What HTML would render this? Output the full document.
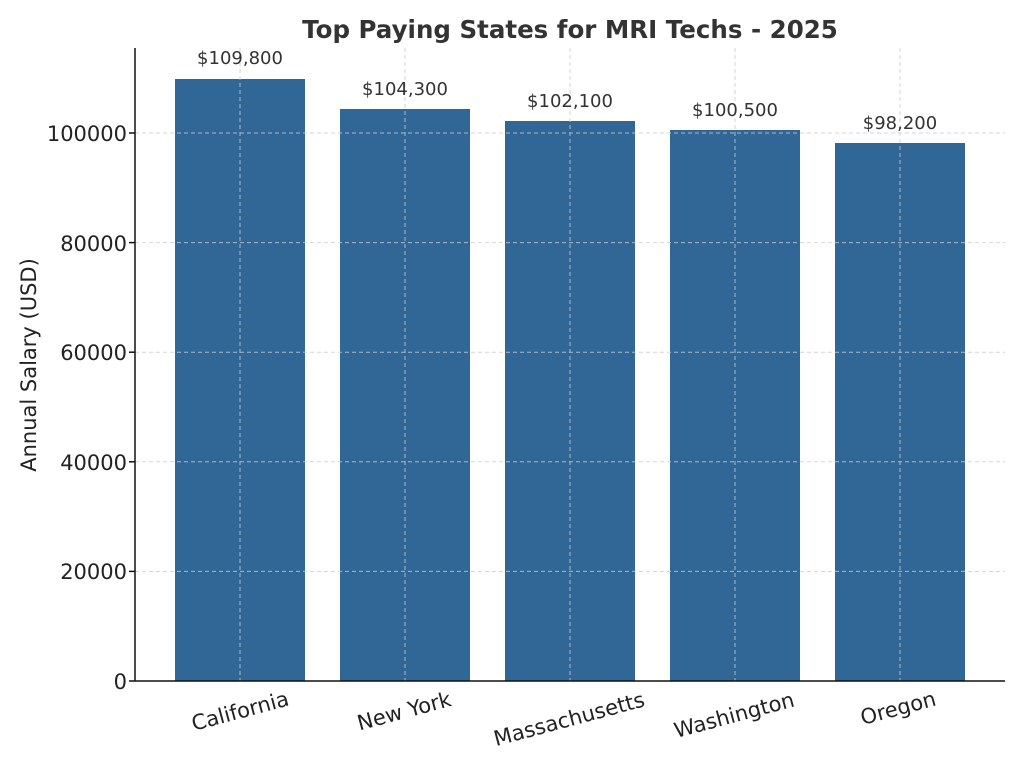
<!DOCTYPE html>
<html><head><meta charset="utf-8"><style>body{margin:0;background:#fff}svg{display:block}</style></head>
<body>
<svg width="1024" height="768" xmlns="http://www.w3.org/2000/svg" font-family="'DejaVu Sans','Liberation Sans',sans-serif">
<rect width="1024" height="768" fill="#fff"/>
<text x="570" y="38" text-anchor="middle" font-size="24.5" font-weight="bold" fill="#333">Top Paying States for MRI Techs - 2025</text>
<g fill="#316796">
<rect x="175" y="79" width="130" height="602"/>
<rect x="340" y="109" width="130" height="572"/>
<rect x="505" y="121" width="130" height="560"/>
<rect x="670" y="130" width="130" height="551"/>
<rect x="835" y="143" width="130" height="538"/>
</g>
<g stroke="#ccc" stroke-width="1" stroke-dasharray="4,3" opacity="0.8">
<line x1="135" x2="1005" y1="571.4" y2="571.4"/>
<line x1="135" x2="1005" y1="461.8" y2="461.8"/>
<line x1="135" x2="1005" y1="352.2" y2="352.2"/>
<line x1="135" x2="1005" y1="242.6" y2="242.6"/>
<line x1="135" x2="1005" y1="133" y2="133"/>
<line x1="240" x2="240" y1="48" y2="681"/>
<line x1="405" x2="405" y1="48" y2="681"/>
<line x1="570" x2="570" y1="48" y2="681"/>
<line x1="735" x2="735" y1="48" y2="681"/>
<line x1="900" x2="900" y1="48" y2="681"/>
</g>
<g stroke="#111" stroke-width="1.5">
<line x1="135" x2="135" y1="48" y2="681"/>
<line x1="135" x2="1005" y1="681" y2="681"/>
<line x1="129" x2="135" y1="681" y2="681"/>
<line x1="129" x2="135" y1="571.4" y2="571.4"/>
<line x1="129" x2="135" y1="461.8" y2="461.8"/>
<line x1="129" x2="135" y1="352.2" y2="352.2"/>
<line x1="129" x2="135" y1="242.6" y2="242.6"/>
<line x1="129" x2="135" y1="133" y2="133"/>
</g>
<g font-size="21" fill="#222" text-anchor="end">
<text x="127" y="689">0</text>
<text x="127" y="579">20000</text>
<text x="127" y="470">40000</text>
<text x="127" y="360">60000</text>
<text x="127" y="251">80000</text>
<text x="127" y="141">100000</text>
</g>
<text transform="translate(36,365) rotate(-90)" text-anchor="middle" font-size="21" fill="#222">Annual Salary (USD)</text>
<g font-size="18" fill="#333" text-anchor="middle">
<text x="240" y="64">$109,800</text>
<text x="405" y="95">$104,300</text>
<text x="570" y="107">$102,100</text>
<text x="735" y="116">$100,500</text>
<text x="900" y="129">$98,200</text>
</g>
<g font-size="21" fill="#222" text-anchor="middle">
<text transform="translate(242,718) rotate(-15)">California</text>
<text transform="translate(406,718) rotate(-15)">New York</text>
<text transform="translate(571,726) rotate(-15)">Massachusetts</text>
<text transform="translate(736,722) rotate(-15)">Washington</text>
<text transform="translate(900,715) rotate(-15)">Oregon</text>
</g>
</svg>
</body></html>
